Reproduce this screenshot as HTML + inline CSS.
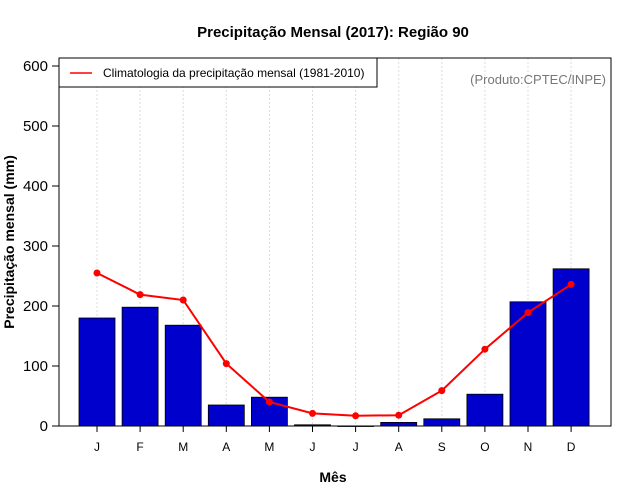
<!DOCTYPE html>
<html><head><meta charset="utf-8"><style>body{margin:0;background:#fff}svg{display:block;font-family:"Liberation Sans",sans-serif}</style></head>
<body>
<svg id="c" width="640" height="500"></svg>
<script>
const months=["J","F","M","A","M","J","J","A","S","O","N","D"];
const observed=[180,198,168,35,48,2,0,6,12,53,207,262];
const climatology=[255,219,210,104,40,21,17,18,59,128,189,236];
const yTicks=[0,100,200,300,400,500,600];
const NS="http://www.w3.org/2000/svg";
const svg=document.getElementById('c');
const L=59,R=611,T=58,B=426;
const x=i=>97+i*43.1;
const y=v=>426-v*0.6;
function el(t,a,p){const e=document.createElementNS(NS,t);for(const k in a)e.setAttribute(k,a[k]);(p||svg).appendChild(e);return e;}
let t=el('text',{x:333,y:37,'text-anchor':'middle','font-size':15,'font-weight':'bold'});t.textContent='Precipitação Mensal (2017): Região 90';


months.forEach((m,i)=>{
 const g=el('line',{x1:x(i),x2:x(i),y1:T,y2:B,stroke:'#ddd','stroke-dasharray':'2,2'});
 
 
});
observed.forEach((v,i)=>{
 const r=el('rect',{x:x(i)-18,y:y(v),width:36,height:Math.max(0.5,v*0.6),fill:'#0000cd',stroke:'#000','stroke-width':0.8});
 
 
 const tl=el('line',{x1:x(i),x2:x(i),y1:B,y2:B+6,stroke:'#000'});
 
 
 const lt=el('text',{x:x(i),y:451,'text-anchor':'middle','font-size':12});lt.textContent=months[i];
 
 
});
const pl=el('polyline',{points:climatology.map((v,i)=>x(i)+','+y(v)).join(' '),fill:'none',stroke:'#f00','stroke-width':2});


climatology.forEach((v,i)=>{const c=el('circle',{cx:x(i),cy:y(v),r:3.5,fill:'#f00'});
 
 });
yTicks.forEach(v=>{
 const tl=el('line',{x1:L-7,x2:L,y1:y(v),y2:y(v),stroke:'#000'});
 
 
 const lt=el('text',{x:L-11,y:y(v)+5,'text-anchor':'end','font-size':15});lt.textContent=v;
 
 
});
const box=el('rect',{x:L,y:T,width:R-L,height:B-T,fill:'none',stroke:'#000'});


const lg=el('g',{});


el('rect',{x:59,y:58,width:318,height:29,fill:'#fff',stroke:'#000'},lg);
el('line',{x1:70,x2:92,y1:73,y2:73,stroke:'#f00','stroke-width':1.5},lg);
t=el('text',{x:103,y:77,'font-size':12},lg);t.textContent='Climatologia da precipitação mensal (1981-2010)';
t=el('text',{x:606,y:84,'text-anchor':'end','font-size':13,fill:'#777'});t.textContent='(Produto:CPTEC/INPE)';


t=el('text',{x:333,y:482,'text-anchor':'middle','font-size':14,'font-weight':'bold'});t.textContent='Mês';


t=el('text',{x:14,y:242,'text-anchor':'middle','font-size':14,'font-weight':'bold',transform:'rotate(-90 14 242)'});t.textContent='Precipitação mensal (mm)';


</script>
</body></html>
